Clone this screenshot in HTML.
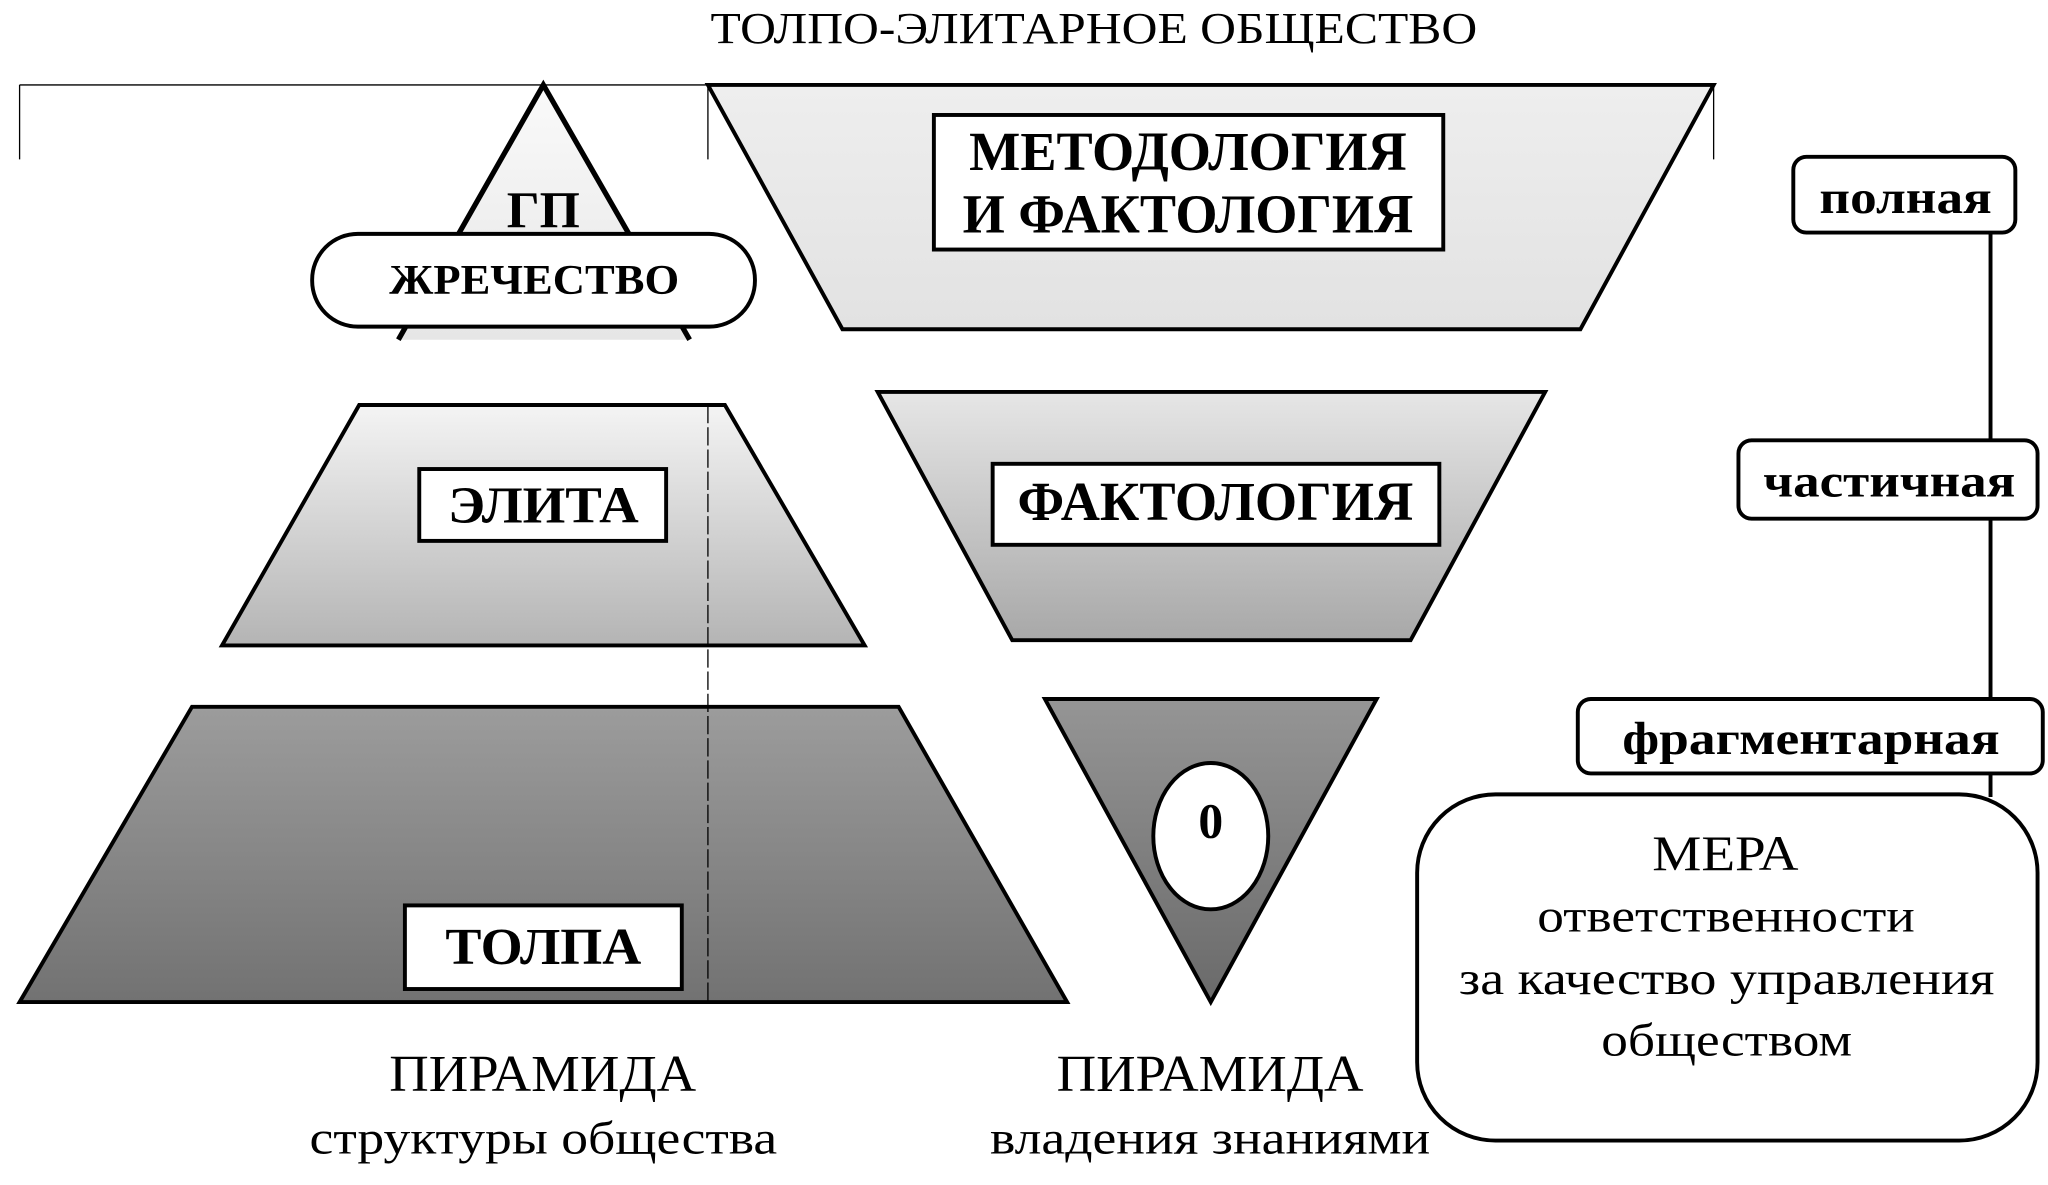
<!DOCTYPE html>
<html><head><meta charset="utf-8"><style>
html,body{margin:0;padding:0;background:#fff;}
svg{display:block;}
text{font-family:"Liberation Serif","DejaVu Serif",serif;fill:#000;}
.b{font-weight:bold;}
</style></head><body>
<svg width="2048" height="1185" viewBox="0 0 1568 907" preserveAspectRatio="none" xmlns="http://www.w3.org/2000/svg">
<defs>
<linearGradient id="g0" x1="0" y1="0" x2="0" y2="1"><stop offset="0" stop-color="#fafafa"/><stop offset="1" stop-color="#e6e6e6"/></linearGradient>
<linearGradient id="g1" x1="0" y1="0" x2="0" y2="1"><stop offset="0" stop-color="#f4f4f4"/><stop offset="1" stop-color="#b4b4b4"/></linearGradient>
<linearGradient id="g2" x1="0" y1="0" x2="0" y2="1"><stop offset="0" stop-color="#9c9c9c"/><stop offset="1" stop-color="#727272"/></linearGradient>
<linearGradient id="g3" x1="0" y1="0" x2="0" y2="1"><stop offset="0" stop-color="#eeeeee"/><stop offset="1" stop-color="#e2e2e2"/></linearGradient>
<linearGradient id="g4" x1="0" y1="0" x2="0" y2="1"><stop offset="0" stop-color="#e6e6e6"/><stop offset="1" stop-color="#a8a8a8"/></linearGradient>
<linearGradient id="g5" x1="0" y1="0" x2="0" y2="1"><stop offset="0" stop-color="#959595"/><stop offset="1" stop-color="#6a6a6a"/></linearGradient>
</defs>
<text x="544" y="33" font-size="34" textLength="587" lengthAdjust="spacingAndGlyphs">ТОЛПО-ЭЛИТАРНОЕ ОБЩЕСТВО</text>
<g stroke="#000" stroke-width="1" fill="none">
<path d="M15 65 H542 M15 65 V122 M542 65 V122 M1312 65 V122"/>
</g>
<!-- left pyramid -->
<polygon points="416,65 528,260 305,260" fill="url(#g0)"/>
<path d="M305 260 L416 65 L528 260" fill="none" stroke="#000" stroke-width="4"/>
<text x="388" y="174" font-size="40" class="b" textLength="56" lengthAdjust="spacingAndGlyphs">ГП</text>
<rect x="239" y="179" width="339" height="71" rx="35" fill="#fff" stroke="#000" stroke-width="3"/>
<text x="298" y="225" font-size="32" class="b" textLength="222" lengthAdjust="spacingAndGlyphs">ЖРЕЧЕСТВО</text>
<polygon points="275,310 555,310 662,494 170,494" fill="url(#g1)" stroke="#000" stroke-width="3"/>
<rect x="321" y="359" width="189" height="55" fill="#fff" stroke="#000" stroke-width="3"/>
<text x="343" y="400" font-size="40" class="b" textLength="146" lengthAdjust="spacingAndGlyphs">ЭЛИТА</text>
<polygon points="147,541 688,541 817,767 15,767" fill="url(#g2)" stroke="#000" stroke-width="3"/>
<rect x="310" y="693" width="212" height="64" fill="#fff" stroke="#000" stroke-width="3"/>
<text x="341" y="738" font-size="40" class="b" textLength="150" lengthAdjust="spacingAndGlyphs">ТОЛПА</text>
<line x1="542" y1="310" x2="542" y2="767" stroke="#000" stroke-width="1" stroke-dasharray="14 3"/>
<!-- right pyramid -->
<polygon points="542,65 1312,65 1210,252 645,252" fill="url(#g3)" stroke="#000" stroke-width="3"/>
<rect x="715" y="88" width="390" height="103" fill="#fff" stroke="#000" stroke-width="3"/>
<text x="742" y="130" font-size="42" class="b" textLength="335" lengthAdjust="spacingAndGlyphs">МЕТОДОЛОГИЯ</text>
<text x="737" y="178" font-size="42" class="b" textLength="345" lengthAdjust="spacingAndGlyphs">И ФАКТОЛОГИЯ</text>
<polygon points="672,300 1183,300 1080,490 775,490" fill="url(#g4)" stroke="#000" stroke-width="3"/>
<rect x="760" y="355" width="342" height="62" fill="#fff" stroke="#000" stroke-width="3"/>
<text x="779" y="398" font-size="42" class="b" textLength="303" lengthAdjust="spacingAndGlyphs">ФАКТОЛОГИЯ</text>
<polygon points="800,535 1054,535 927,767" fill="url(#g5)" stroke="#000" stroke-width="3"/>
<ellipse cx="927" cy="640" rx="44" ry="56" fill="#fff" stroke="#000" stroke-width="3"/>
<text x="927" y="641" font-size="38" class="b" text-anchor="middle">0</text>
<!-- right column -->
<line x1="1524" y1="150" x2="1524" y2="610" stroke="#000" stroke-width="3"/>
<rect x="1373" y="120" width="170" height="58" rx="10" fill="#fff" stroke="#000" stroke-width="3"/>
<text x="1393" y="163" font-size="36" class="b" textLength="132" lengthAdjust="spacingAndGlyphs">полная</text>
<rect x="1331" y="337" width="229" height="60" rx="10" fill="#fff" stroke="#000" stroke-width="3"/>
<text x="1350" y="380" font-size="36" class="b" textLength="193" lengthAdjust="spacingAndGlyphs">частичная</text>
<rect x="1208" y="535" width="356" height="57" rx="10" fill="#fff" stroke="#000" stroke-width="3"/>
<text x="1242" y="577" font-size="36" class="b" textLength="289" lengthAdjust="spacingAndGlyphs">фрагментарная</text>
<rect x="1085" y="608" width="475" height="265" rx="60" fill="#fff" stroke="#000" stroke-width="3"/>
<text x="1265" y="666" font-size="38" textLength="112" lengthAdjust="spacingAndGlyphs">МЕРА</text>
<text x="1177" y="713" font-size="36" textLength="289" lengthAdjust="spacingAndGlyphs">ответственности</text>
<text x="1117" y="761" font-size="36" textLength="410" lengthAdjust="spacingAndGlyphs">за качество управления</text>
<text x="1226" y="808" font-size="36" textLength="192" lengthAdjust="spacingAndGlyphs">обществом</text>
<!-- captions -->
<text x="298" y="835" font-size="40" textLength="235" lengthAdjust="spacingAndGlyphs">ПИРАМИДА</text>
<text x="237" y="883" font-size="36" textLength="358" lengthAdjust="spacingAndGlyphs">структуры общества</text>
<text x="809" y="835" font-size="40" textLength="235" lengthAdjust="spacingAndGlyphs">ПИРАМИДА</text>
<text x="758" y="883" font-size="36" textLength="337" lengthAdjust="spacingAndGlyphs">владения знаниями</text>
</svg>
</body></html>
